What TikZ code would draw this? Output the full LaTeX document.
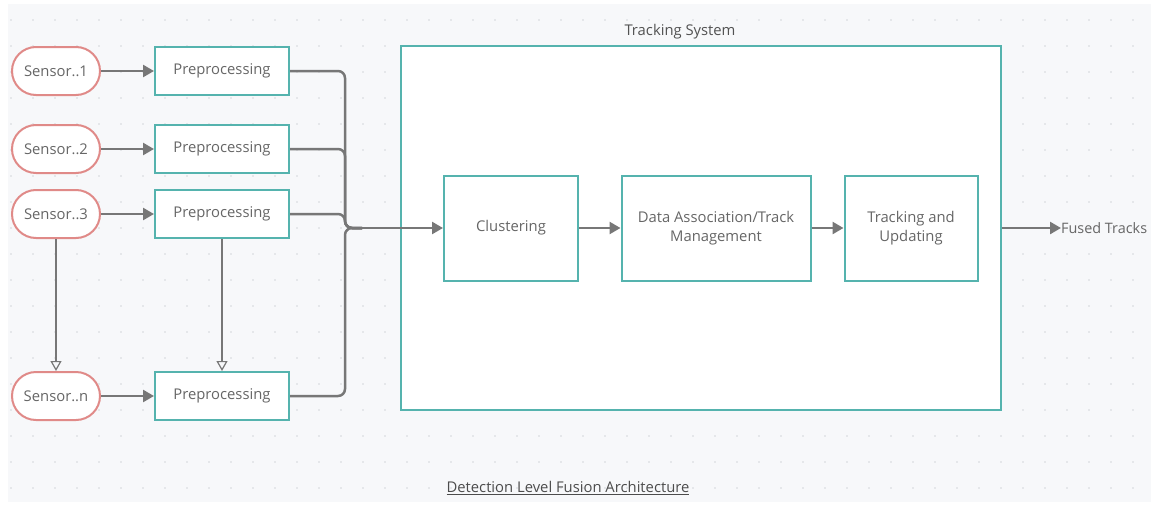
\documentclass[tikz,border=0pt]{standalone}
\usepackage{fontspec}
\setmainfont{Open Sans}
\usetikzlibrary{arrows.meta,calc}
\definecolor{teal}{HTML}{55B3AE}
\definecolor{rose}{HTML}{E08A88}
\definecolor{wire}{HTML}{777777}
\definecolor{txt}{HTML}{666666}
\definecolor{paper}{HTML}{F7F8FA}
\definecolor{dotc}{HTML}{D4D6DA}
\tikzset{
  sensor/.style={draw=rose, line width=2pt, fill=white, rounded corners=24pt,
    minimum width=88pt, minimum height=48pt, inner sep=0pt,
    font=\fontsize{14.8}{17}\selectfont, text=txt},
  stage/.style={draw=teal, line width=2pt, fill=white,
    inner sep=0pt, align=center,
    font=\fontsize{14.8}{19}\selectfont, text=txt},
  conn/.style={draw=wire, line width=2.5pt, -{Triangle[length=11pt,width=12pt]}},
  feed/.style={draw=wire, line width=2.5pt, rounded corners=7pt},
  down/.style={draw=wire, line width=1.4pt, -{Triangle[open,length=10pt,width=11pt,line width=1.2pt]}},
  label/.style={font=\fontsize{14.8}{17}\selectfont, text=txt, inner sep=0pt},
}
\begin{document}
\begin{tikzpicture}[x=1pt,y=-1pt]
\useasboundingbox (0,0) rectangle (1151,506);
% dotted canvas
\fill[paper] (8,4) rectangle (1151,502);
\foreach \i in {0,...,51}
  \foreach \j in {0,...,18}
    \fill[dotc] ({11+22*\i},{20+26*\j}) circle (0.9pt);

% tracking system frame
\node[draw=teal, line width=2pt, fill=white, minimum width=600pt, minimum height=364pt,
      inner sep=0pt] (ts) at (701,228) {};
\node[label, text=black!68] (tstitle) at (680,32) {Tracking System};

% sensors
\node[sensor] (s1) at (56,71)  {Sensor..1};
\node[sensor] (s2) at (56,149) {Sensor..2};
\node[sensor] (s3) at (56,214) {Sensor..3};
\node[sensor] (sn) at (56,396) {Sensor..n};

% preprocessing stages
\foreach \n/\y in {p1/71, p2/149, p3/214, pn/396}
  \node[stage, minimum width=134pt, minimum height=48pt] (\n) at (222,\y) {Preprocessing};

% tracking pipeline
\node[stage, minimum width=134pt, minimum height=105pt] (clu) at (511,228) {Clustering};
\node[stage, minimum width=189pt, minimum height=105pt] (das) at (716,228) {Data Association/Track\\Management};
\node[stage, minimum width=133pt, minimum height=105pt] (trk) at (911,228) {Tracking and\\Updating};
\node[label, anchor=west, font=\fontsize{14.4}{17}\selectfont] (ft) at (1061,228) {Fused Tracks};

% caption
\node[label, text=black!70] (cap) at (568,488) {\underline{Detection Level Fusion Architecture}};

% sensor -> preprocessing
\foreach \a/\b in {s1/p1, s2/p2, s3/p3, sn/pn}
  \draw[conn] (\a) -- (\b);

% sensor and preprocessing series continue downwards
\draw[down] (s3.south) -- (sn.north);
\draw[down] (p3.south) -- (pn.north);

% preprocessed streams merge into one feed
\coordinate (jn) at (345,228);
\coordinate (jn2) at (362,228);
\foreach \n in {p1, p2, p3, pn}
  \draw[feed] (\n.east) -| (jn) -- (jn2);
\draw[conn] (jn2) -- (clu.west);

% pipeline
\draw[conn] (clu) -- (das);
\draw[conn] (das) -- (trk);
\draw[conn] (ts.east) -- (ft.west);
\end{tikzpicture}
\end{document}
